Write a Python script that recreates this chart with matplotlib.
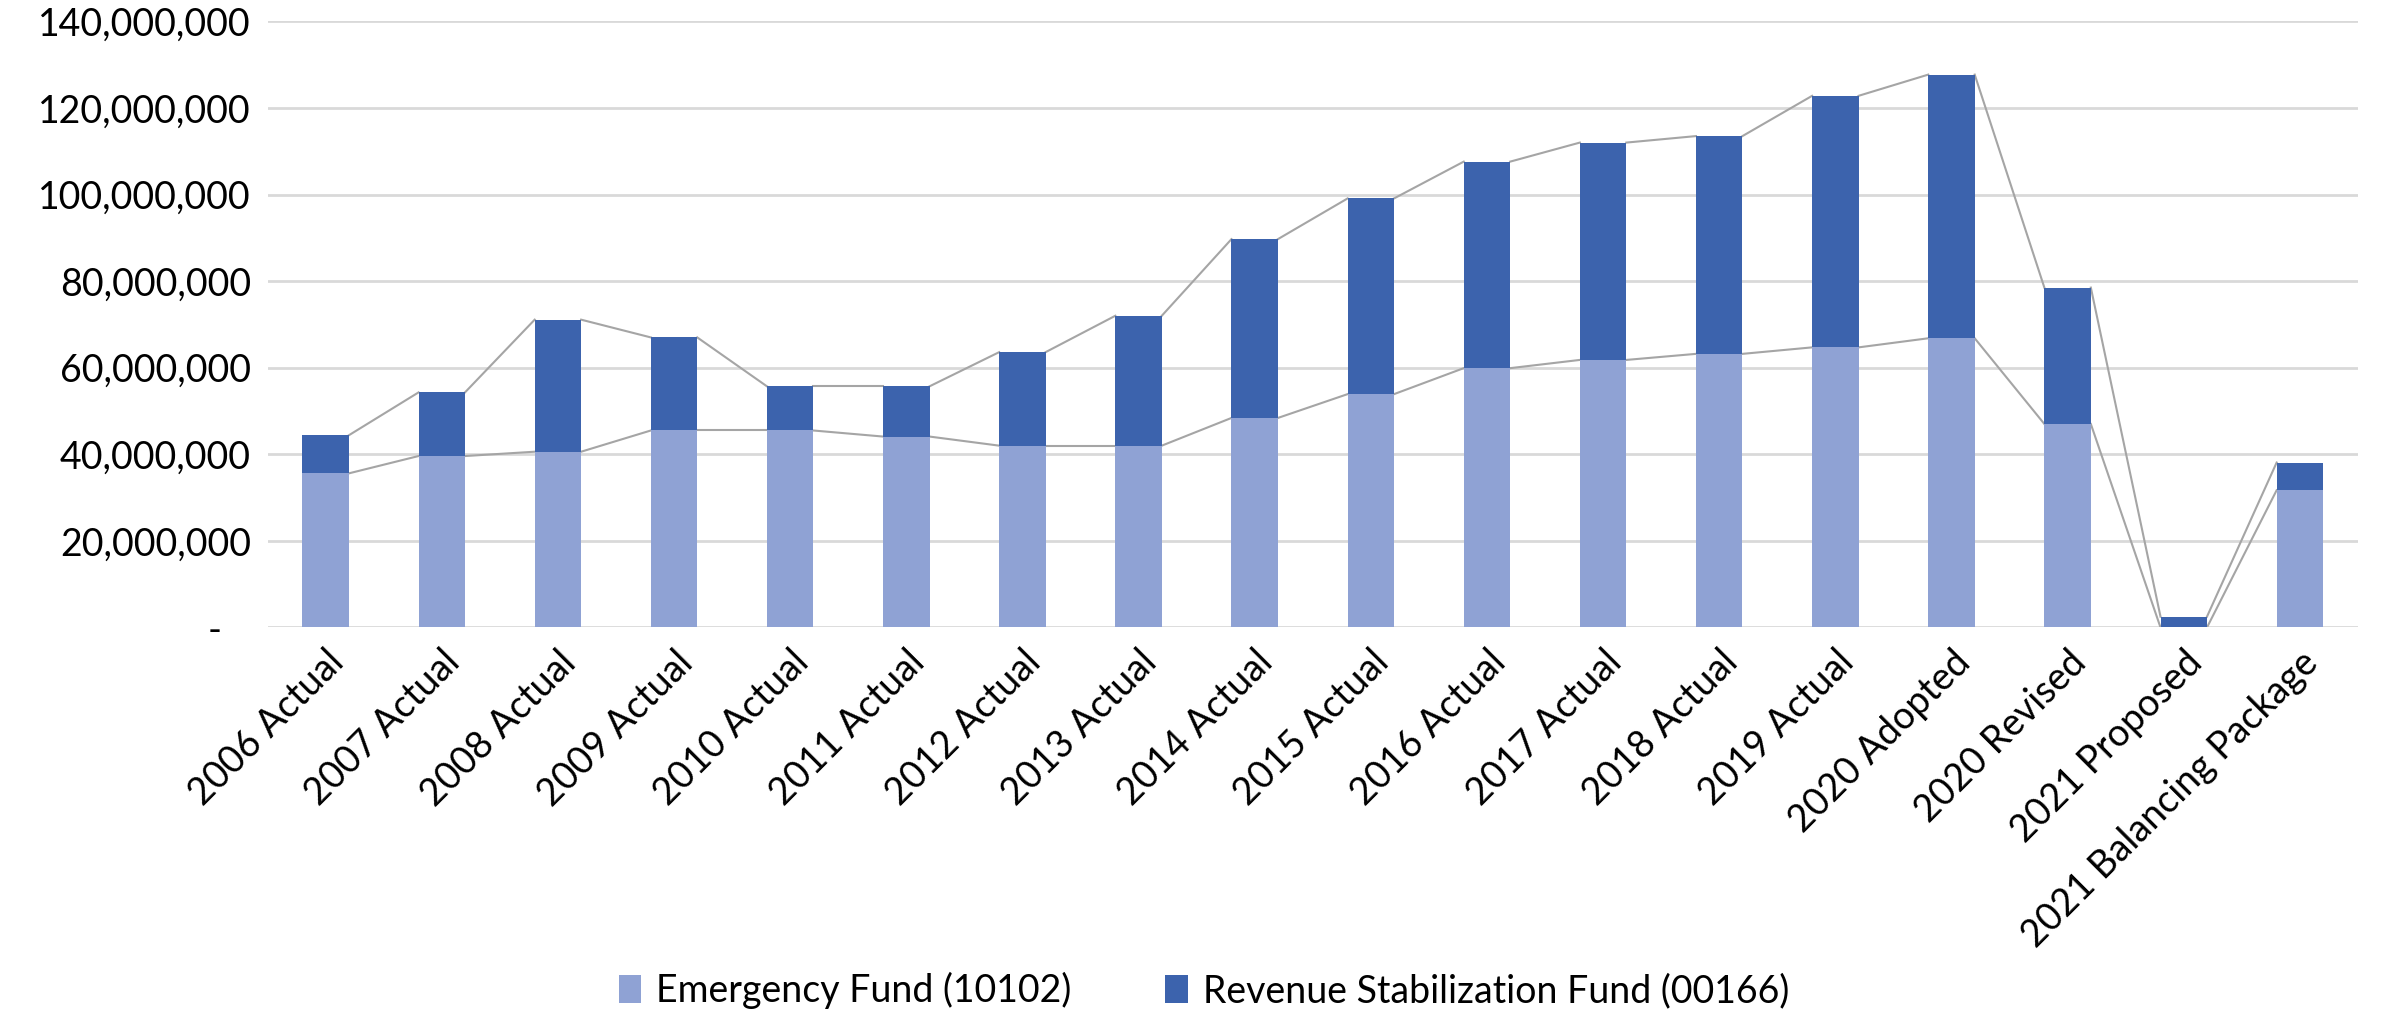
import matplotlib.pyplot as plt
import matplotlib.ticker as mticker
import numpy as np

# datos
categorias = ["2006 Actual", "2007 Actual", "2008 Actual", "2009 Actual", "2010 Actual",
              "2011 Actual", "2012 Actual", "2013 Actual", "2014 Actual", "2015 Actual",
              "2016 Actual", "2017 Actual", "2018 Actual", "2019 Actual", "2020 Adopted",
              "2020 Revised", "2021 Proposed", "2021 Balancing Package"]
emergencia = [35.6, 39.6, 40.6, 45.5, 45.5, 44.1, 42.0, 42.0, 48.4, 53.9,
              59.9, 61.8, 63.2, 64.7, 66.8, 47.0, 0.0, 31.7]
total = [44.4, 54.3, 71.1, 67.0, 55.7, 55.7, 63.6, 72.0, 89.7, 99.1,
         107.6, 112.0, 113.5, 122.8, 127.7, 78.5, 2.5, 38.1]

emergencia = np.array(emergencia) * 1e6
total = np.array(total) * 1e6
estabilizacion = total - emergencia

plt.rcParams['font.family'] = ['Lato', 'DejaVu Sans']

fig = plt.figure(figsize=(23.89, 10.17), dpi=100)
ax = fig.add_axes([0.112, 0.383, 0.875, 0.596])

x = np.arange(len(categorias))
ancho = 0.4
b1 = ax.bar(x, emergencia, width=ancho, color='#8FA2D4', label='Emergency Fund (10102)', zorder=3)
b2 = ax.bar(x, estabilizacion, width=ancho, bottom=emergencia, color='#3C63AD',
            label='Revenue Stabilization Fund (00166)', zorder=3)

# lineas de serie (estilo excel)
for serie in [emergencia, total]:
    for i in range(len(x) - 1):
        ax.plot([x[i] + ancho / 2, x[i + 1] - ancho / 2], [serie[i], serie[i + 1]],
                color='#A5A5A5', linewidth=1.5, zorder=2)

ax.set_xlim(-0.5, len(x) - 0.5)
ax.set_ylim(0, 140e6)
ax.set_yticks(np.arange(0, 140e6 + 1, 20e6))
ax.yaxis.set_major_formatter(mticker.FuncFormatter(lambda v, p: '-   ' if v == 0 else f'{v:,.0f}'))
ax.grid(axis='y', color='#D9D9D9', linewidth=2, zorder=0)
for s in ax.spines.values():
    s.set_visible(False)
ax.tick_params(axis='both', length=0, labelsize=27, pad=12)
ax.set_xticks(x)
ax.set_xticklabels(categorias, rotation=45, ha='right', rotation_mode='anchor')

fig.legend(handles=[b1, b2], loc='center', bbox_to_anchor=(0.504, 0.026), ncol=2,
           frameon=False, fontsize=27, handlelength=0.6, handleheight=0.8,
           columnspacing=2.5, handletextpad=0.4)

plt.savefig('out.png', dpi=100)
